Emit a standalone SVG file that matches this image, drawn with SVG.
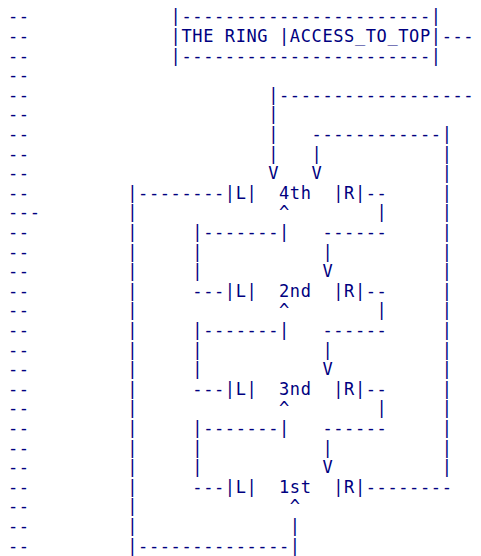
<svg xmlns="http://www.w3.org/2000/svg" width="481" height="556" viewBox="0 0 481 556">
<style>
text{font-family:"DejaVu Sans Mono","Liberation Mono",monospace;font-size:17px;letter-spacing:0.606px;fill:#000080;white-space:pre}
</style>
<rect width="481" height="556" fill="#ffffff"/>
<g id="ascii" xml:space="preserve">
<text x="8" y="22.3">--             |-----------------------|</text>
<text x="8" y="41.9">--             |THE RING |ACCESS_TO_TOP|---</text>
<text x="8" y="61.5">--             |-----------------------|</text>
<text x="8" y="81.1">--</text>
<text x="8" y="100.7">--                      |------------------</text>
<text x="8" y="120.3">--                      |</text>
<text x="8" y="139.9">--                      |   ------------|</text>
<text x="8" y="159.5">--                      |   |           |</text>
<text x="8" y="179.1">--                      V   V           |</text>
<text x="8" y="198.7">--         |--------|L|  4th  |R|--     |</text>
<text x="8" y="218.3">---        |             ^        |     |</text>
<text x="8" y="237.9">--         |     |-------|   ------     |</text>
<text x="8" y="257.5">--         |     |           |          |</text>
<text x="8" y="277.1">--         |     |           V          |</text>
<text x="8" y="296.7">--         |     ---|L|  2nd  |R|--     |</text>
<text x="8" y="316.3">--         |             ^        |     |</text>
<text x="8" y="335.9">--         |     |-------|   ------     |</text>
<text x="8" y="355.5">--         |     |           |          |</text>
<text x="8" y="375.1">--         |     |           V          |</text>
<text x="8" y="394.7">--         |     ---|L|  3nd  |R|--     |</text>
<text x="8" y="414.3">--         |             ^        |     |</text>
<text x="8" y="433.9">--         |     |-------|   ------     |</text>
<text x="8" y="453.5">--         |     |           |          |</text>
<text x="8" y="473.1">--         |     |           V          |</text>
<text x="8" y="492.7">--         |     ---|L|  1st  |R|--------</text>
<text x="8" y="512.3">--         |              ^</text>
<text x="8" y="531.9">--         |              |</text>
<text x="8" y="551.5">--         |--------------|</text>
</g>
</svg>
